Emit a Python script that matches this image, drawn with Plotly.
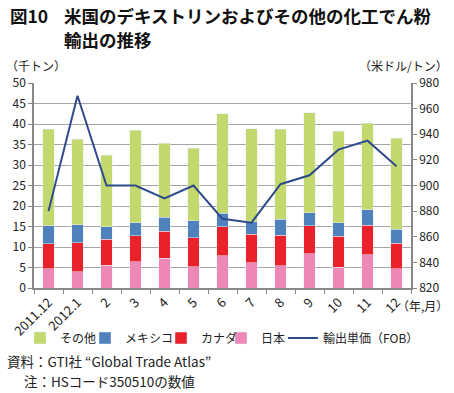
import plotly.graph_objects as go

months = ["2011.12", "2012.1", "2", "3", "4", "5", "6", "7", "8", "9", "10", "11", "12"]
japan = [4.7, 4.0, 5.6, 6.4, 7.2, 5.2, 7.9, 6.2, 5.4, 8.3, 5.1, 8.1, 4.7]
canada = [6.1, 7.0, 6.3, 6.3, 6.7, 7.0, 7.1, 6.9, 7.5, 6.9, 7.5, 7.2, 6.2]
mexico = [4.4, 4.4, 3.1, 3.2, 3.4, 4.2, 3.2, 3.1, 3.9, 3.2, 3.3, 3.8, 3.4]
others = [23.5, 20.9, 17.4, 22.6, 18.0, 17.7, 24.3, 22.6, 21.9, 24.4, 22.3, 21.1, 22.2]
price = [880, 970, 900, 900, 890, 900, 874, 871, 901, 908, 928, 935, 915]

FONT = "Noto Sans CJK JP"
W, H = 454, 393
fig = go.Figure()
bar_w = 0.41
fig.add_trace(go.Bar(x=months, y=japan, name="日本", marker_color="#EE88B6", width=bar_w, legend="legend4"))
fig.add_trace(go.Bar(x=months, y=canada, name="カナダ", marker_color="#E8212A", width=bar_w, legend="legend3"))
fig.add_trace(go.Bar(x=months, y=mexico, name="メキシコ", marker_color="#4F81BD", width=bar_w, legend="legend2"))
fig.add_trace(go.Bar(x=months, y=others, name="その他", marker_color="#C4D96D", width=bar_w, legend="legend"))
fig.add_trace(go.Scatter(x=months, y=price, name="輸出単価（FOB）", mode="lines",
                         line=dict(color="#2F4A8A", width=2), yaxis="y2", legend="legend5"))


def leg(x_px):
    return dict(orientation="h", xref="container", yref="container",
                x=x_px / W, xanchor="left", y=1 - 338 / H, yanchor="middle",
                font=dict(size=12, family=FONT, color="#222"), itemwidth=30,
                bgcolor="rgba(0,0,0,0)", borderwidth=0)


fig.update_layout(
    width=W, height=H,
    margin=dict(l=34, r=43, t=83, b=105),
    barmode="stack",
    plot_bgcolor="white", paper_bgcolor="white",
    font=dict(family=FONT, size=12, color="#222"),
    showlegend=True,
    legend=leg(20),
    legend2=leg(85),
    legend3=leg(161),
    legend4=leg(221),
    legend5=leg(283),
    xaxis=dict(type="category", tickangle=-45, showgrid=False, automargin=False,
               showline=True, linecolor="#888", linewidth=1.5,
               ticks="outside", tickcolor="#888", ticklen=4, tickson="boundaries",
               tickfont=dict(size=13, family=FONT)),
    yaxis=dict(range=[0, 50], dtick=5, showgrid=True, gridcolor="#A6A6A6", gridwidth=1,
               showline=True, linecolor="#888", linewidth=1.5, automargin=False,
               ticks="outside", tickcolor="#888", ticklen=4, zeroline=False,
               tickfont=dict(size=12, family=FONT)),
    yaxis2=dict(range=[820, 980], dtick=20, overlaying="y", side="right", showgrid=False,
                showline=True, linecolor="#888", linewidth=1.5, automargin=False,
                ticks="outside", tickcolor="#888", ticklen=4, zeroline=False,
                tickfont=dict(size=12, family=FONT)),
)

ann = [
    dict(text="<b>図10</b>", x=8, y=16),
    dict(text="<b>米国のデキストリンおよびその他の化工でん粉</b>", x=62, y=16),
    dict(text="<b>輸出の推移</b>", x=62, y=39),
]
for a in ann:
    fig.add_annotation(text=a["text"], xref="paper", yref="paper",
                       x=(a["x"] - 34) / 377, y=(288 - a["y"]) / 205,
                       xanchor="left", yanchor="middle", showarrow=False,
                       font=dict(size=17.5, family=FONT, color="#111"))

small = [
    ("（千トン）", 4, 66, "left", 12),
    ("（米ドル/トン）", 450, 66, "right", 12),
    ("（年,月）", 450, 305, "right", 12),
    ("資料：GTI社 “Global Trade Atlas”", 5, 361, "left", 13.5),
    ("注：HSコード350510の数値", 22, 381, "left", 13.5),
]
for t, x, y, anc, s in small:
    fig.add_annotation(text=t, xref="paper", yref="paper",
                       x=(x - 34) / 377, y=(288 - y) / 205,
                       xanchor=anc, yanchor="middle", showarrow=False,
                       font=dict(size=s, family=FONT, color="#222"))

fig.write_html("out.html", config={"displayModeBar": False},
               post_script="document.body.style.margin='0px';")
